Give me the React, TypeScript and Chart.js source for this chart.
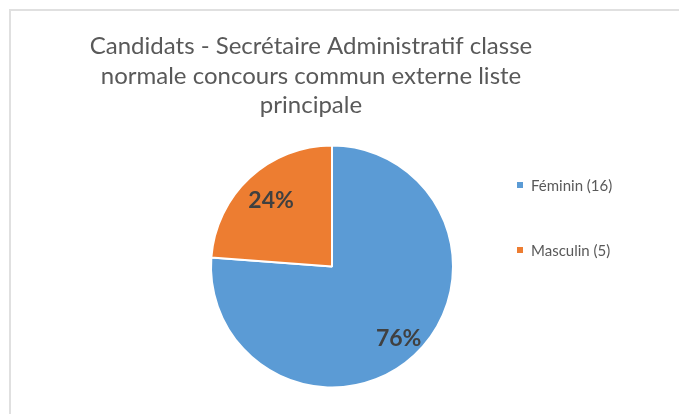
import React, { useEffect, useRef } from 'react';
import { Chart, registerables } from 'chart.js';

Chart.register(...registerables);

const TITLE_LINES = [
  'Candidats - Secrétaire Administratif classe',
  'normale concours commun externe liste',
  'principale',
];
const CATEGORIES = ['Féminin', 'Masculin'];
const COUNTS = [16, 5];
const COLORS = ['#5B9BD5', '#ED7D31'];
const LABEL_RADIUS_FACTORS = [0.81, 0.74];

const FONT = 'Lato, "Open Sans", sans-serif';

const titlePlugin = {
  id: 'customTitle',
  afterDraw(chart: any) {
    const ctx = chart.ctx;
    ctx.save();
    ctx.font = `24px ${FONT}`;
    ctx.fillStyle = '#595959';
    ctx.textAlign = 'center';
    ctx.textBaseline = 'alphabetic';
    const baselines = [43, 73, 102];
    TITLE_LINES.forEach((line, i) => ctx.fillText(line, 300, baselines[i]));
    ctx.restore();
  },
};

const legendPlugin = {
  id: 'customLegend',
  afterDraw(chart: any) {
    const ctx = chart.ctx;
    const labels: string[] = chart.data.labels;
    const colors: string[] = chart.data.datasets[0].backgroundColor;
    ctx.save();
    ctx.font = `15px ${FONT}`;
    ctx.textAlign = 'left';
    ctx.textBaseline = 'alphabetic';
    labels.forEach((lab, i) => {
      const cy = 174 + i * 65;
      ctx.fillStyle = colors[i];
      ctx.fillRect(506, cy - 3, 6, 6);
      ctx.fillStyle = '#595959';
      ctx.fillText(lab, 520, cy + 6);
    });
    ctx.restore();
  },
};

const percentPlugin = {
  id: 'percentLabels',
  afterDatasetsDraw(chart: any) {
    const ctx = chart.ctx;
    const meta = chart.getDatasetMeta(0);
    const data: number[] = chart.data.datasets[0].data;
    const total = data.reduce((a, b) => a + b, 0);
    ctx.save();
    ctx.font = `bold 23px ${FONT}`;
    ctx.fillStyle = '#404040';
    ctx.textAlign = 'center';
    ctx.textBaseline = 'middle';
    meta.data.forEach((arc: any, i: number) => {
      const p = arc.getProps(['x', 'y', 'startAngle', 'endAngle', 'outerRadius'], true);
      const mid = (p.startAngle + p.endAngle) / 2;
      const r = p.outerRadius * LABEL_RADIUS_FACTORS[i];
      const x = p.x + Math.cos(mid) * r;
      const y = p.y + Math.sin(mid) * r;
      ctx.fillText(`${Math.round((data[i] / total) * 100)}%`, x, y);
    });
    ctx.restore();
  },
};

export default function App() {
  const canvasRef = useRef<HTMLCanvasElement>(null);

  useEffect(() => {
    if (!canvasRef.current) return;
    const chart = new Chart(canvasRef.current, {
      type: 'pie',
      data: {
        labels: CATEGORIES.map((c, i) => `${c} (${COUNTS[i]})`),
        datasets: [
          {
            data: COUNTS,
            backgroundColor: COLORS,
            borderColor: '#ffffff',
            borderWidth: 2,
          },
        ],
      },
      options: {
        animation: false,
        responsive: false,
        maintainAspectRatio: false,
        layout: { padding: { top: 133.5, bottom: 25.5, left: 199, right: 225 } },
        plugins: {
          legend: { display: false },
          title: { display: false },
          tooltip: { enabled: false },
        },
      },
      plugins: [titlePlugin, legendPlugin, percentPlugin],
    });
    return () => chart.destroy();
  }, []);

  return (
    <div
      style={{
        position: 'fixed',
        left: 9,
        top: 9,
        width: 668,
        height: 403,
        borderLeft: '2px solid #e0e0e0',
        borderTop: '2px solid #e0e0e0',
        background: '#ffffff',
      }}
    >
      <canvas ref={canvasRef} width={668} height={403} style={{ display: 'block' }} />
    </div>
  );
}
